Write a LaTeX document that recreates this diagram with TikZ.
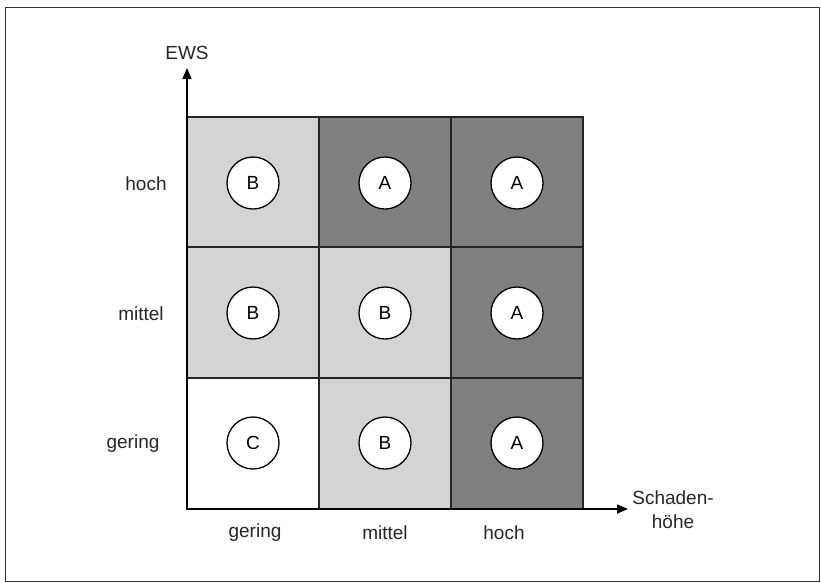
\documentclass[tikz,border=0pt]{standalone}
\usepackage{fontspec}
\setmainfont{Liberation Sans}
\usetikzlibrary{arrows.meta}
\definecolor{lightcell}{RGB}{212,212,212}
\definecolor{darkcell}{RGB}{128,128,128}
\tikzset{
  cell/.style={draw=black!85, line width=1.5pt},
  grade/.style={circle, draw=black, fill=white, line width=1.3pt, minimum size=52pt, inner sep=0pt, font=\fontsize{19}{22}\selectfont},
  lbl/.style={font=\fontsize{19}{24}\selectfont, text=black!85},
  axis/.style={line width=1.5pt, -{Triangle[length=11pt,width=9pt]}}
}
\begin{document}
\begin{tikzpicture}[x=1pt,y=-1pt]
\useasboundingbox (0,0) rectangle (821,582);
\draw[line width=1pt, black!80] (5,7) rectangle (819,581);
% cells
\fill[lightcell] (187,117) rectangle (319,247);
\fill[darkcell] (319,117) rectangle (451,247);
\fill[darkcell] (451,117) rectangle (583,247);
\fill[lightcell] (187,247) rectangle (319,378);
\fill[lightcell] (319,247) rectangle (451,378);
\fill[darkcell] (451,247) rectangle (583,378);
\fill[white] (187,378) rectangle (319,509);
\fill[lightcell] (319,378) rectangle (451,509);
\fill[darkcell] (451,378) rectangle (583,509);
\draw[cell] (187,117) rectangle (583,509);
\draw[cell] (319,117) -- (319,509);
\draw[cell] (451,117) -- (451,509);
\draw[cell] (187,247) -- (583,247);
\draw[cell] (187,378) -- (583,378);
% axes
\coordinate (o) at (187,509);
\coordinate (ytip) at (187,68);
\coordinate (xtip) at (628,509);
\draw[axis] (o) -- (ytip);
\draw[axis] (o) -- (xtip);
\node[lbl] (ews) at (187,53) {EWS};
\node[lbl, align=center] (sh) at (673,510) {Schaden-\\höhe};
% row labels
\node[lbl] (rh) at (146,184) {hoch};
\node[lbl] (rm) at (141,314) {mittel};
\node[lbl] (rg) at (133,444) {gering};
% column labels
\node[lbl] (cg) at (255,533) {gering};
\node[lbl] (cm) at (385,533) {mittel};
\node[lbl] (ch) at (504,533) {hoch};
% grades
\node[grade] (g11) at (253,183) {B};
\node[grade] (g12) at (385,183) {A};
\node[grade] (g13) at (517,183) {A};
\node[grade] (g21) at (253,313) {B};
\node[grade] (g22) at (385,313) {B};
\node[grade] (g23) at (517,313) {A};
\node[grade] (g31) at (253,443) {C};
\node[grade] (g32) at (385,443) {B};
\node[grade] (g33) at (517,443) {A};
\end{tikzpicture}
\end{document}
